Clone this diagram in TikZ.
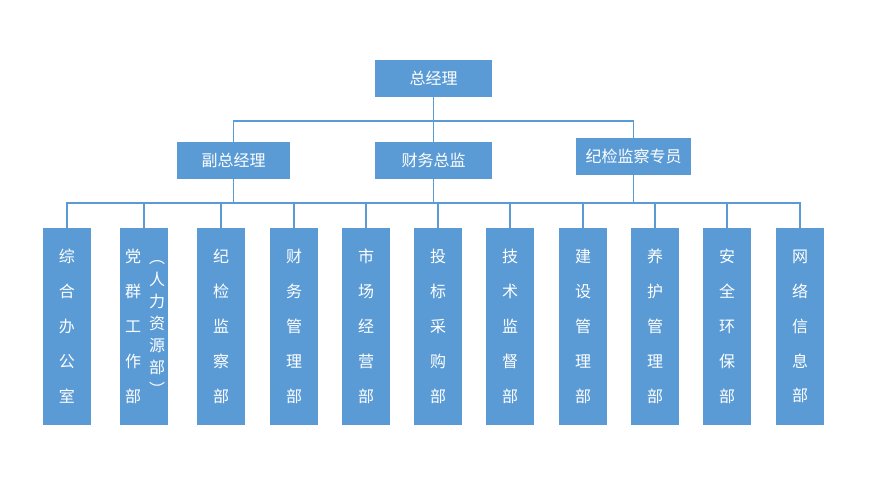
\documentclass[tikz,border=0pt]{standalone}
\usepackage{fontspec}
\newfontfamily\cjk{Noto Sans CJK SC}
\definecolor{bx}{HTML}{5B9BD5}
\begin{document}
\begin{tikzpicture}[x=0.75pt,y=-0.75pt,
  hbox/.style={fill=bx,text=white,font=\cjk\fontsize{12}{14}\selectfont,minimum height=27.75pt,inner sep=0pt},
  vbox/.style={fill=bx,text=white,font=\cjk\fontsize{12}{26.2}\selectfont,minimum width=36pt,minimum height=147.75pt,inner sep=0pt,align=center},
  ln/.style={draw=bx,line width=0.8pt}]
\useasboundingbox (0,0) rectangle (894,492);
\node[hbox,minimum width=87.75pt] (gm) at (433.5,78.5) {总经理};
\node[hbox,minimum width=84.75pt] (vp) at (233.5,160.5) {副总经理};
\node[hbox,minimum width=87.75pt] (cf) at (433.5,160.5) {财务总监};
\node[hbox,minimum width=86.25pt] (jj) at (633.5,156.5) {纪检监察专员};
\coordinate (h1) at (433.5,121);
\draw[ln] (gm.south) -- (h1);
\draw[ln] (vp.north) |- (h1) -| (jj.north);
\draw[ln] (h1) -- (cf.north);
\coordinate (h2) at (433.5,203);
\draw[ln] (cf.south) -- (h2);
\draw[ln] (vp.south) -- (vp.south |- h2);
\draw[ln] (jj.south) -- (jj.south |- h2);
\foreach \n/\x/\t in {b1/67/综\\合\\办\\公\\室, b3/221/纪\\检\\监\\察\\部, b4/294/财\\务\\管\\理\\部, b5/366/市\\场\\经\\营\\部, b6/438/投\\标\\采\\购\\部, b7/510/技\\术\\监\\督\\部, b8/583/建\\设\\管\\理\\部, b9/655/养\\护\\管\\理\\部, b10/727/安\\全\\环\\保\\部, b11/800/网\\络\\信\\息\\部}{
  \node[vbox] (\n) at (\x,326.5) {\t};
}
\node[vbox] (b2) at (144,326.5) {};
\node[text=white,font=\cjk\fontsize{12}{26.2}\selectfont,align=center,inner sep=0pt] (b2l) at (133,326.5) {党\\群\\工\\作\\部};
\node[text=white,font=\cjk\fontsize{12}{16.5}\selectfont,align=center,inner sep=0pt] (b2r) at (157,328) {︵\\人\\力\\资\\源\\部\\︶};
\draw[ln] (b1.north) |- (h2) -| (b11.north);
\foreach \n in {b2,b3,b4,b5,b6,b7,b8,b9,b10}{
  \draw[ln] (\n.north) -- (\n.north |- h2);
}
\end{tikzpicture}
\end{document}
